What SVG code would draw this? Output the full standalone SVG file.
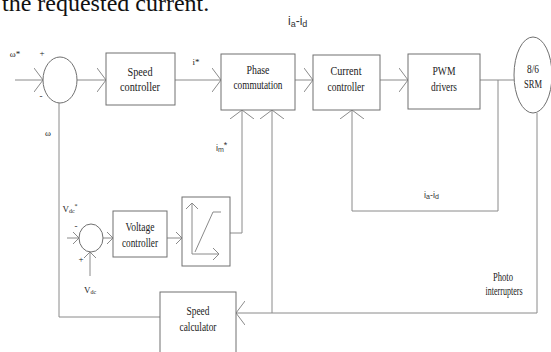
<svg xmlns="http://www.w3.org/2000/svg" width="551" height="352" viewBox="0 0 551 352">
<defs>
<style>
.ln{fill:none;stroke:#8a8a8a;stroke-width:1}
.bx{fill:#fff;stroke:#707070;stroke-width:1}
.t{font-family:"Liberation Serif",serif;font-size:9px;fill:#222;text-anchor:middle}
.b{font-family:"Liberation Serif",serif;font-size:12px;fill:#222;text-anchor:middle}
.s{font-family:"Liberation Sans",sans-serif;fill:#333}
</style>
<marker id="big" markerUnits="userSpaceOnUse" markerWidth="12" markerHeight="26" refX="9" refY="12" orient="auto">
<path d="M0,0 L9,12 L0,24" fill="none" stroke="#8a8a8a" stroke-width="1"/>
</marker>
<marker id="sm" markerUnits="userSpaceOnUse" markerWidth="8" markerHeight="14" refX="6" refY="6" orient="auto">
<path d="M0,0 L6,6 L0,12" fill="none" stroke="#8a8a8a" stroke-width="1"/>
</marker>
</defs>
<rect width="551" height="352" fill="#fff"/>
<text x="2" y="11" font-family="Liberation Serif,serif" font-size="24" fill="#111">the requested current.</text>

<g id="connectors">
<path class="ln" d="M15,80 H43" marker-end="url(#big)"/>
<path class="ln" d="M77,80 H106" marker-end="url(#big)"/>
<path class="ln" d="M175,80 H221" marker-end="url(#big)"/>
<path class="ln" d="M295,80 H313" marker-end="url(#big)"/>
<path class="ln" d="M380,80 H408" marker-end="url(#big)"/>
<path class="ln" d="M480,80 H514"/>
<path class="ln" d="M498,80 V211 H352 V110" marker-end="url(#big)"/>
<path class="ln" d="M537,113 V313 H236" marker-end="url(#big)"/>
<path class="ln" d="M272,313 V110" marker-end="url(#big)"/>
<path class="ln" d="M230,233 H242 V110" marker-end="url(#big)"/>
<path class="ln" d="M160,317 H59 V103"/>
<path class="ln" d="M67,238 H79" marker-end="url(#sm)"/>
<path class="ln" d="M90,276 V252" marker-end="url(#sm)"/>
<path class="ln" d="M103,238 H113" marker-end="url(#sm)"/>
<path class="ln" d="M167,238 H182" marker-end="url(#sm)"/>
</g>

<g id="sum1"><ellipse class="bx" cx="60" cy="80" rx="17" ry="23"/></g>
<g id="speed-controller"><rect class="bx" x="106" y="53" width="69" height="52"/>
<text class="b" x="140" y="76" textLength="25" lengthAdjust="spacingAndGlyphs">Speed</text><text class="b" x="140" y="91" textLength="40" lengthAdjust="spacingAndGlyphs">controller</text></g>
<g id="phase-commutation"><rect class="bx" x="221" y="54" width="74" height="56"/>
<text class="b" x="258" y="74" textLength="23" lengthAdjust="spacingAndGlyphs">Phase</text><text class="b" x="258" y="89" textLength="49" lengthAdjust="spacingAndGlyphs">commutation</text></g>
<g id="current-controller"><rect class="bx" x="313" y="55" width="67" height="55"/>
<text class="b" x="346" y="75" textLength="31" lengthAdjust="spacingAndGlyphs">Current</text><text class="b" x="346" y="91" textLength="37" lengthAdjust="spacingAndGlyphs">controller</text></g>
<g id="pwm-drivers"><rect class="bx" x="408" y="54" width="72" height="55"/>
<text class="b" x="444" y="75" textLength="23" lengthAdjust="spacingAndGlyphs">PWM</text><text class="b" x="444" y="91" textLength="26" lengthAdjust="spacingAndGlyphs">drivers</text></g>
<g id="srm"><ellipse class="bx" cx="533" cy="75" rx="19" ry="38"/>
<text class="b" x="533" y="73" textLength="12" lengthAdjust="spacingAndGlyphs">8/6</text><text class="b" x="533" y="88" textLength="18" lengthAdjust="spacingAndGlyphs">SRM</text></g>
<g id="sum2"><ellipse class="bx" cx="91" cy="238" rx="12" ry="14"/></g>
<g id="voltage-controller"><rect class="bx" x="113" y="211" width="54" height="46"/>
<text class="b" x="140" y="231" textLength="29" lengthAdjust="spacingAndGlyphs">Voltage</text><text class="b" x="140" y="247" textLength="36" lengthAdjust="spacingAndGlyphs">controller</text></g>
<g id="limiter"><rect class="bx" x="182" y="197" width="48" height="69"/>
<path class="ln" d="M192,254 V203" marker-end="url(#sm)"/>
<path class="ln" d="M192,254 H219" marker-end="url(#sm)"/>
<path class="ln" d="M195,252 L213,212 H221"/></g>
<g id="speed-calculator"><rect class="bx" x="160" y="292" width="76" height="62"/>
<text class="b" x="198" y="315" textLength="23" lengthAdjust="spacingAndGlyphs">Speed</text><text class="b" x="198" y="331" textLength="37" lengthAdjust="spacingAndGlyphs">calculator</text></g>

<g id="labels">
<text class="t" x="15" y="57" font-size="6">ω*</text>
<text class="t" x="42" y="56" font-size="6">+</text>
<text class="t" x="41" y="99" font-size="7">-</text>
<text class="t" x="48" y="136" font-size="11">ω</text>
<text class="t" x="196" y="65" font-size="9">i*</text>
<text class="s" x="216" y="151" font-size="9">i<tspan font-size="7" dy="1">m</tspan><tspan dy="-4">*</tspan></text>
<text class="s" x="288" y="25" font-size="12">i<tspan font-size="9" dy="2">a</tspan><tspan dy="-2">-i</tspan><tspan font-size="9" dy="2">d</tspan></text>
<text class="s" x="424" y="198" font-size="9">i<tspan font-size="7" dy="1">a</tspan><tspan dy="-1">-i</tspan><tspan font-size="7" dy="1">d</tspan></text>
<text class="t" x="70" y="212" font-size="10">V<tspan font-size="6" dy="1">dc</tspan><tspan font-size="6" dy="-5">*</tspan></text>
<text class="t" x="76" y="229" font-size="7">-</text>
<text class="t" x="81" y="262" font-size="6">+</text>
<text class="t" x="90" y="293" font-size="10">V<tspan font-size="6" dy="1">dc</tspan></text>
<text class="b" x="503" y="281" textLength="20" lengthAdjust="spacingAndGlyphs">Photo</text>
<text class="b" x="504" y="295" textLength="37" lengthAdjust="spacingAndGlyphs">interrupters</text>
</g>
</svg>
